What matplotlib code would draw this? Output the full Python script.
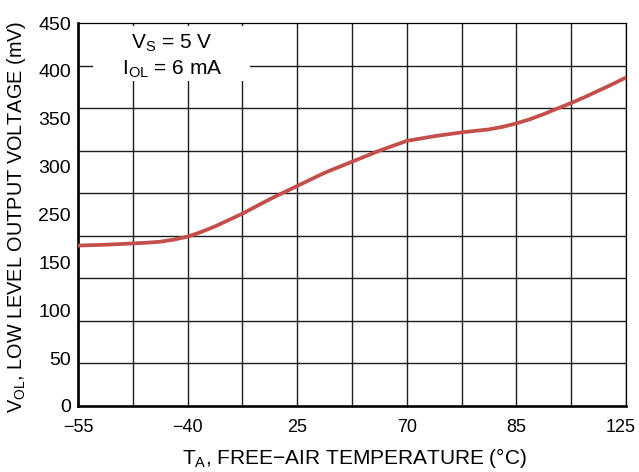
import numpy as np
import matplotlib
matplotlib.use("Agg")
import matplotlib.pyplot as plt
import matplotlib.transforms as mtransforms
from matplotlib.patches import Rectangle

# ---- data ----
x_tick_values = [-55, -40, 25, 70, 85, 125]
x_tick_labels = ["\u221255", "\u221240", "25", "70", "85", "125"]
y_tick_labels = ["0", "50", "100", "150", "250", "300", "350", "400", "450"]

temp_c = [-55, -51.25, -47.5, -45.625, -43.75, -41.875, -40, -31.875, -23.75,
          -7.5, 8.75, 25, 36.25, 47.5, 58.75, 70, 73.75, 77.5, 81.25, 83.125,
          85, 90, 95, 100, 105, 110, 115, 120, 125]
vol_mv = [188.5, 189.5, 191, 191.8, 193, 195.5, 199, 204.5, 211,
          226, 243, 258.5, 274, 287, 300, 311.5, 317, 321.5, 325, 328,
          332, 337, 343, 349.5, 356, 363, 370.5, 378, 386]

plt.rcParams['font.family'] = ['Liberation Sans', 'DejaVu Sans']

# piecewise-linear temperature axis (labels evenly spaced, two columns apart)
pos = np.arange(len(x_tick_values)) * 2.0
tv = np.array(x_tick_values, dtype=float)

def _pw(x, xp, fp):
    x = np.asarray(x, dtype=float)
    y = np.interp(x, xp, fp)
    y = np.where(x < xp[0], fp[0] + (x - xp[0]) * (fp[1] - fp[0]) / (xp[1] - xp[0]), y)
    y = np.where(x > xp[-1], fp[-1] + (x - xp[-1]) * (fp[-1] - fp[-2]) / (xp[-1] - xp[-2]), y)
    return y

fwd = lambda t: _pw(t, tv, pos)
inv = lambda p: _pw(p, pos, tv)

fig = plt.figure(figsize=(6.39, 4.72), dpi=100)
ax = fig.add_axes([78/639, 1 - 406/472, (626-78)/639, (406-23)/472])
ax.set_xscale('function', functions=(fwd, inv))
ax.set_xlim(-55, 125)
ax.set_ylim(0, 450)

# grid
minor_x = inv(np.arange(1, 10, 2))
ax.set_xticks(x_tick_values)
ax.set_xticklabels(x_tick_labels)
ax.set_xticks(minor_x, minor=True)
ax.set_yticks(np.linspace(0, 450, len(y_tick_labels)))
ax.set_yticklabels(y_tick_labels)
ax.set_yticks(np.arange(50, 450, 50), minor=True)
ax.grid(False)
ax.xaxis.grid(True, which='both', color='#1e1e1e', lw=1.0, zorder=1)
ax.yaxis.grid(True, which='minor', color='#1e1e1e', lw=1.0, zorder=1)
ax.set_axisbelow(True)

ax.tick_params(axis='both', which='both', length=0)
ax.tick_params(axis='x', pad=9, labelsize=13)
ax.tick_params(axis='y', pad=5, labelsize=14)

# nudge last x label so it stays inside the figure
last = ax.get_xticklabels()[-1]
last.set_transform(last.get_transform() + mtransforms.ScaledTranslation(-5/100, 0, fig.dpi_scale_trans))

for s in ['left', 'bottom']:
    ax.spines[s].set_linewidth(1.9)
for s in ['top', 'right']:
    ax.spines[s].set_linewidth(0.9)

ax.plot(temp_c, vol_mv, color='#c44e4a', lw=2.7, solid_capstyle='butt',
        solid_joinstyle='round', zorder=3, clip_on=False)

# annotation box
ax.add_patch(Rectangle(((93-78)/548, (406-81)/383), (250-93)/548, (81-26)/383,
                       transform=ax.transAxes, fc='white', ec='none', zorder=2))
ax.text((172-78)/548, (406-43)/383, "V$_\\mathregular{S}$ = 5 V", transform=ax.transAxes,
        ha='center', va='center', fontsize=15, zorder=4)
ax.text((172-78)/548, (406-69)/383, "I$_\\mathregular{OL}$ = 6 mA", transform=ax.transAxes,
        ha='center', va='center', fontsize=15, zorder=4)

fig.text(354/639, 1 - 458/472, "T$_\\mathregular{A}$, FREE\u2212AIR TEMPERATURE (\u00b0C)",
         ha='center', va='center', fontsize=15)
fig.text(17/639, 1 - 217/472, "V$_\\mathregular{OL}$, LOW LEVEL OUTPUT VOLTAGE (mV)",
         ha='center', va='center', rotation=90, fontsize=14.3)

fig.savefig("out.png", dpi=100)
